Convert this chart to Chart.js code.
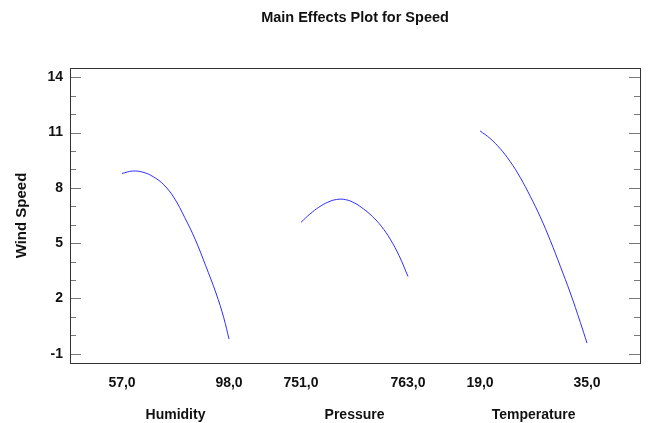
<!DOCTYPE html>
<html><head><meta charset="utf-8">
<script src="https://cdn.jsdelivr.net/npm/chart.js@4/dist/chart.umd.min.js"></script>
<style>html,body{margin:0;padding:0;background:#fff}#wrap{width:648px;height:423px;position:relative}</style>
</head><body><div id="wrap"><canvas id="c"></canvas></div>
<script>
const chartTitle = 'Main Effects Plot for Speed';
const yAxisTitle = 'Wind Speed';
const factorNames = ['Humidity', 'Pressure', 'Temperature'];
const factorLow = [57, 751, 19];
const factorHigh = [98, 763, 35];
const factorLowLabels = ['57,0', '751,0', '19,0'];
const factorHighLabels = ['98,0', '763,0', '35,0'];
const yMajorTicks = [-1, 2, 5, 8, 11, 14];

const humidity = [57, 61, 65, 69, 73, 77, 81, 85, 89, 93, 96, 98];
const humiditySpeed = [8.78, 8.91, 8.85, 8.60, 8.17, 7.45, 6.40, 5.22, 3.80, 2.30, 0.95, -0.20];

const pressure = [751, 752, 753, 754, 755, 756, 757, 758, 759, 760, 761, 762, 763];
const pressureSpeed = [6.13, 6.58, 6.95, 7.22, 7.37, 7.36, 7.18, 6.86, 6.45, 5.92, 5.22, 4.32, 3.19];

const temperature = [19, 20.5, 22, 23.5, 25, 26.5, 28, 29.5, 31, 32.5, 34, 35];
const temperatureSpeed = [11.09, 10.68, 10.13, 9.43, 8.57, 7.55, 6.43, 5.15, 3.75, 2.30, 0.70, -0.42];

// layout of the three panels along a shared linear x axis (panel width = 1 unit)
const panelStart = [0.486, 2.159, 3.832];
const xMin = 0, xMax = 5.327;

function pos(k, v) { return panelStart[k] + (v - factorLow[k]) / (factorHigh[k] - factorLow[k]); }

const series = [[humidity, humiditySpeed], [pressure, pressureSpeed], [temperature, temperatureSpeed]];
const datasets = series.map((s, k) => ({
  label: factorNames[k],
  data: s[0].map((v, i) => ({ x: pos(k, v), y: s[1][i] })),
  borderColor: 'rgb(45,45,255)',
  borderWidth: 1,
  pointRadius: 0,
  tension: 0.4,
  fill: false
}));

const xTickValues = [], xTickLabels = [];
for (let k = 0; k < 3; k++) {
  xTickValues.push(pos(k, factorLow[k])); xTickLabels.push(factorLowLabels[k]);
  xTickValues.push(pos(k, (factorLow[k] + factorHigh[k]) / 2)); xTickLabels.push(['', '', factorNames[k]]);
  xTickValues.push(pos(k, factorHigh[k])); xTickLabels.push(factorHighLabels[k]);
}

const frame = {
  id: 'frame',
  afterDatasetsDraw(chart) {
    const { ctx, chartArea: a, scales } = chart;
    const y = scales.y;
    ctx.save();
    ctx.lineWidth = 1;
    ctx.strokeStyle = '#777';
    for (let v = -1; v <= 14; v++) {
      const py = Math.round(y.getPixelForValue(v)) + 0.5;
      const L = yMajorTicks.includes(v) ? 11 : 6;
      ctx.beginPath();
      ctx.moveTo(a.left, py); ctx.lineTo(a.left + L, py);
      ctx.moveTo(a.right, py); ctx.lineTo(a.right - L, py);
      ctx.stroke();
    }
    ctx.strokeStyle = '#333';
    ctx.strokeRect(Math.round(a.left) + 0.5, Math.round(a.top) + 0.5, Math.round(a.right - a.left), Math.round(a.bottom - a.top));
    ctx.restore();
  }
};

const FONT = "'Liberation Sans', Arial, sans-serif";
new Chart(document.getElementById('c'), {
  type: 'line',
  data: { datasets },
  plugins: [frame],
  options: {
    responsive: true,
    maintainAspectRatio: false,
    animation: false,
    devicePixelRatio: 1,
    layout: { padding: { left: 0, right: 8, top: 0, bottom: 0 } },
    plugins: {
      legend: { display: false },
      tooltip: { enabled: false },
      title: {
        display: true, text: chartTitle, fullSize: false, color: '#111',
        font: { family: FONT, size: 14.5, weight: 'bold', lineHeight: 1.2 },
        padding: { top: 9, bottom: 41.6 }
      }
    },
    scales: {
      x: {
        type: 'linear', min: xMin, max: xMax,
        grid: { display: false, drawTicks: false },
        border: { display: false },
        afterBuildTicks: s => { s.ticks = xTickValues.map(v => ({ value: v })); },
        afterFit: s => { s.height = 60; },
        ticks: {
          autoSkip: false, maxRotation: 0, minRotation: 0, padding: 12, color: '#111',
          font: { family: FONT, size: 14, weight: 'bold', lineHeight: 16 / 14 },
          callback: (v, i) => xTickLabels[i]
        }
      },
      y: {
        min: -1.5, max: 14.5,
        grid: { display: false, drawTicks: false },
        border: { display: false },
        afterBuildTicks: s => { const t = []; for (let v = -1; v <= 14; v++) t.push({ value: v }); s.ticks = t; },
        afterFit: s => { s.width = 70; },
        ticks: {
          autoSkip: false, padding: 7, color: '#111',
          font: { family: FONT, size: 14, weight: 'bold' },
          callback: v => yMajorTicks.includes(v) ? String(v) : ''
        },
        title: {
          display: true, text: yAxisTitle, color: '#111',
          font: { family: FONT, size: 15, weight: 'bold', lineHeight: 1.2 },
          padding: { top: 13, bottom: 0 }
        }
      }
    }
  }
});
</script>
</body></html>
